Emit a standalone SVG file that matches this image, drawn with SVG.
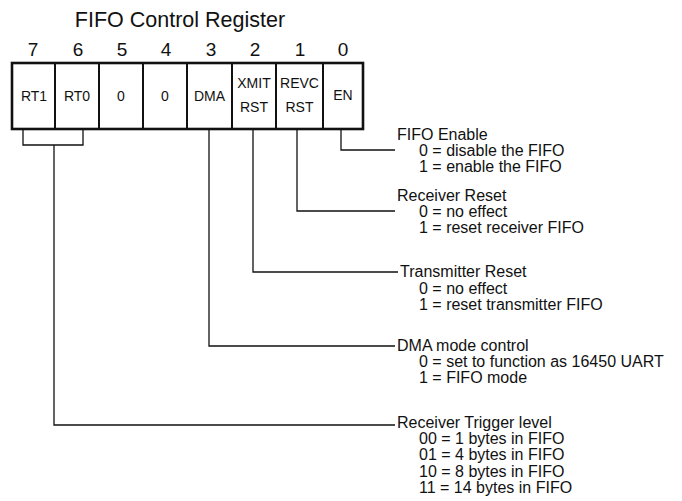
<svg xmlns="http://www.w3.org/2000/svg" width="682" height="501" viewBox="0 0 682 501">
<style>
text{font-family:"Liberation Sans",Arial,sans-serif;fill:#111}
.title{font-size:21.5px}
.bit{font-size:19px;text-anchor:middle}
.cell{font-size:14px;text-anchor:middle}
.desc{font-size:16px}
.box{fill:#fff;stroke:#111;stroke-width:2.6}
.div{stroke:#111;stroke-width:2}
.conn{fill:none;stroke:#111;stroke-width:1.3}
</style>
<rect width="682" height="501" fill="#fff"/>
<g id="title"><text class="title" x="180" y="27" text-anchor="middle">FIFO Control Register</text></g>
<g id="bits">
<text class="bit" x="33" y="56">7</text>
<text class="bit" x="78" y="56">6</text>
<text class="bit" x="122" y="56">5</text>
<text class="bit" x="166" y="56">4</text>
<text class="bit" x="211" y="56">3</text>
<text class="bit" x="255" y="56">2</text>
<text class="bit" x="300" y="56">1</text>
<text class="bit" x="343" y="56">0</text>
</g>
<g id="register">
<rect class="box" x="12" y="63" width="351" height="66"/>
<line class="div" x1="55" y1="63" x2="55" y2="129"/>
<line class="div" x1="99" y1="63" x2="99" y2="129"/>
<line class="div" x1="143" y1="63" x2="143" y2="129"/>
<line class="div" x1="187" y1="63" x2="187" y2="129"/>
<line class="div" x1="232" y1="63" x2="232" y2="129"/>
<line class="div" x1="276" y1="63" x2="276" y2="129"/>
<line class="div" x1="323" y1="63" x2="323" y2="129"/>
</g>
<g id="bit7"><text class="cell" x="34" y="101">RT1</text></g>
<g id="bit6"><text class="cell" x="77" y="101">RT0</text></g>
<g id="bit5"><text class="cell" x="121" y="101">0</text></g>
<g id="bit4"><text class="cell" x="165" y="101">0</text></g>
<g id="bit3"><text class="cell" x="209.5" y="101">DMA</text></g>
<g id="bit2"><text class="cell" x="254" y="88">XMIT</text><text class="cell" x="254" y="112">RST</text></g>
<g id="bit1"><text class="cell" x="299.5" y="88">REVC</text><text class="cell" x="299.5" y="112">RST</text></g>
<g id="bit0"><text class="cell" x="343" y="100">EN</text></g>
<g id="connectors">
<path class="conn" d="M23 129V145H83V129"/>
<path class="conn" d="M54 145V425H395"/>
<path class="conn" d="M209 129V346H395"/>
<path class="conn" d="M253 129V272H398"/>
<path class="conn" d="M297 129V211H395"/>
<path class="conn" d="M341 129V150H395"/>
</g>
<g id="fifo-enable">
<text class="desc" x="397" y="140">FIFO Enable</text>
<text class="desc" x="419" y="156">0 = disable the FIFO</text>
<text class="desc" x="419" y="172">1 = enable the FIFO</text>
</g>
<g id="receiver-reset">
<text class="desc" x="397" y="201">Receiver Reset</text>
<text class="desc" x="419" y="217">0 = no effect</text>
<text class="desc" x="419" y="233">1 = reset receiver FIFO</text>
</g>
<g id="transmitter-reset">
<text class="desc" x="400" y="277">Transmitter Reset</text>
<text class="desc" x="419" y="294">0 = no effect</text>
<text class="desc" x="419" y="310">1 = reset transmitter FIFO</text>
</g>
<g id="dma-mode">
<text class="desc" x="397" y="351">DMA mode control</text>
<text class="desc" x="419" y="367">0 = set to function as 16450 UART</text>
<text class="desc" x="419" y="383">1 = FIFO mode</text>
</g>
<g id="trigger-level">
<text class="desc" x="397" y="428">Receiver Trigger level</text>
<text class="desc" x="419" y="444">00 = 1 bytes in FIFO</text>
<text class="desc" x="419" y="460">01 = 4 bytes in FIFO</text>
<text class="desc" x="419" y="477">10 = 8 bytes in FIFO</text>
<text class="desc" x="419" y="493">11 = 14 bytes in FIFO</text>
</g>
</svg>
